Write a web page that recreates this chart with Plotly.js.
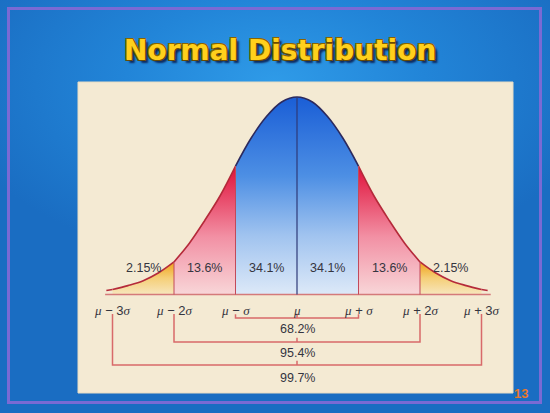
<!DOCTYPE html>
<html>
<head>
<meta charset="utf-8">
<script src="https://cdn.plot.ly/plotly-3.0.1.min.js"></script>
<style>
html,body{margin:0;padding:0;width:550px;height:413px;overflow:hidden;}
body{background:radial-gradient(ellipse 60% 45% at 50% 20%, #2f9be8 0%, #2285d8 45%, #1a6dc2 100%);}
#chart{width:550px;height:413px;}
</style>
</head>
<body>
<div id="chart"></div>
<script>
// ---- data (x in units of sigma, height relative to peak) ----
const sigmaX  = [-3.1, -3, -2.75, -2.5, -2.25, -2, -1.75, -1.5, -1.25, -1, -0.75, -0.5, -0.25, 0,
                 0.25, 0.5, 0.75, 1, 1.25, 1.5, 1.75, 2, 2.25, 2.5, 2.75, 3, 3.1];
const density = [0.02, 0.025, 0.045, 0.07, 0.11, 0.165, 0.26, 0.375, 0.50, 0.65, 0.79, 0.90, 0.975, 1,
                 0.975, 0.90, 0.79, 0.65, 0.50, 0.375, 0.26, 0.165, 0.11, 0.07, 0.045, 0.025, 0.02];
const tickVals   = [-3, -2, -1, 0, 1, 2, 3];
const tickLabels = ['μ − 3σ', 'μ − 2σ', 'μ − σ', 'μ', 'μ + σ', 'μ + 2σ', 'μ + 3σ'];
const regionPct  = ['2.15%', '13.6%', '34.1%', '34.1%', '13.6%', '2.15%'];
const regionPctX = [-2.5, -1.5, -0.5, 0.5, 1.5, 2.5];
const bracketPct = ['68.2%', '95.4%', '99.7%'];
const bracketK   = [1, 2, 3];
const titleText  = 'Normal Distribution';
const pageNumber = '13';

// ---- helpers ----
function slice(a, b) {
  const xs = [], ys = [];
  sigmaX.forEach((x, i) => { if (x >= a - 1e-9 && x <= b + 1e-9) { xs.push(x); ys.push(density[i]); } });
  return {x: xs, y: ys};
}
function heightAt(k) { return density[sigmaX.indexOf(k)]; }

const traces = [];
const SERIF = 'Liberation Serif';
function fmtLabel(s) {
  return s.replace(/μ/g, '<span style="font-family:' + SERIF + '"><i>μ</i></span>')
          .replace(/σ/g, '<span style="font-family:' + SERIF + '"><i>σ</i></span>');
}

// regions
const regions = [
  {a: -3.1, b: -3, fill: null, line: '#b52a3a'},
  {a: -3, b: -2, fill: {stop: heightAt(-2), cs: [[0, '#f7e6bd'], [0.5, '#f5cf78'], [1, '#f0a21a']]}, line: '#b52a3a'},
  {a: -2, b: -1, fill: {stop: heightAt(-1), cs: [[0, '#f8d6d8'], [0.45, '#f290a4'], [1, '#e0103a']]}, line: '#b52a3a'},
  {a: -1, b: 1, fill: {stop: 1, cs: [[0, '#dde9f8'], [0.3, '#a0c3ef'], [0.6, '#4d8fe4'], [1, '#1a5ed6']]}, line: '#2c2a5e'},
  {a: 1, b: 2, fill: {stop: heightAt(1), cs: [[0, '#f8d6d8'], [0.45, '#f290a4'], [1, '#e0103a']]}, line: '#b52a3a'},
  {a: 2, b: 3, fill: {stop: heightAt(2), cs: [[0, '#f7e6bd'], [0.5, '#f5cf78'], [1, '#f0a21a']]}, line: '#b52a3a'},
  {a: 3, b: 3.1, fill: null, line: '#b52a3a'}
];
regions.forEach(r => {
  const s = slice(r.a, r.b);
  const t = {x: s.x, y: s.y, type: 'scatter', mode: 'lines',
             line: {color: r.line, width: 1.6, shape: 'spline', smoothing: 1},
             hoverinfo: 'skip', showlegend: false};
  if (r.fill) {
    t.fill = 'tozeroy';
    t.fillgradient = {type: 'vertical', start: 0, stop: r.fill.stop, colorscale: r.fill.cs};
  }
  traces.push(t);
});

// baseline
traces.push({x: [sigmaX[0] - 0.02, sigmaX[sigmaX.length - 1] + 0.05], y: [0, 0], type: 'scatter', mode: 'lines',
             line: {color: '#d47a7a', width: 1.6}, hoverinfo: 'skip', showlegend: false});

// boundary lines at ±1σ, ±2σ
[-2, -1, 1, 2].forEach(k => {
  traces.push({x: [k, k], y: [0, heightAt(k)], type: 'scatter', mode: 'lines',
               line: {color: '#c24a5a', width: 1}, hoverinfo: 'skip', showlegend: false});
});
// mean line
traces.push({x: [0, 0], y: [0, heightAt(0)], type: 'scatter', mode: 'lines',
             line: {color: '#2e3a78', width: 1.2}, hoverinfo: 'skip', showlegend: false});

// brackets
const bracketLevel = [-0.119, -0.2405, -0.357];
const bracketTop = -0.0987;
const bracketTextY = [-0.176, -0.297, -0.424];
bracketK.forEach((k, i) => {
  const lv = bracketLevel[i];
  const top = (i === 0) ? -0.1 : bracketTop;
  traces.push({x: [-k, -k, k, k, null, 0, 0], y: [top, lv, lv, top, null, lv, lv + 0.022],
               type: 'scatter', mode: 'lines', line: {color: '#d86a6a', width: 1.5},
               hoverinfo: 'skip', showlegend: false});
});

// annotations
const ann = [];
const txtFont = {family: 'Liberation Sans', size: 12.5, color: '#35353f'};
regionPct.forEach((t, i) => ann.push({x: regionPctX[i], y: 0.134, xref: 'x', yref: 'y', text: t,
  xanchor: 'center', yanchor: 'middle', showarrow: false, font: txtFont}));
tickVals.forEach((v, i) => ann.push({x: v, y: -0.083, xref: 'x', yref: 'y', text: fmtLabel(tickLabels[i]),
  xanchor: 'center', yanchor: 'middle', showarrow: false,
  font: {family: 'Liberation Sans', size: 13, color: '#35353f'}}));
bracketPct.forEach((t, i) => ann.push({x: 0, y: bracketTextY[i], xref: 'x', yref: 'y', text: t,
  xanchor: 'center', yanchor: 'middle', showarrow: false, font: txtFont}));
ann.push({x: 280 / 550, y: 1 - 50 / 413, xref: 'paper', yref: 'paper', text: '<b>' + titleText + '</b>',
  xanchor: 'center', yanchor: 'middle', showarrow: false,
  font: {family: 'DejaVu Sans', size: 28, color: '#ffd01c',
         shadow: '1px 1px 0 #6b4a00, -1px -1px 0 #8a6400, 1px -1px 0 #8a6400, -1px 1px 0 #6b4a00, 3px 3px 2px #0d2a60'}});
ann.push({x: 521 / 550, y: 1 - 393 / 413, xref: 'paper', yref: 'paper', text: '<b>' + pageNumber + '</b>',
  xanchor: 'center', yanchor: 'middle', showarrow: false,
  font: {family: 'Liberation Sans', size: 13, color: '#e8782a'}});

// decorative slide shapes (paper coordinates)
const W = 550, H = 413;
function px(x) { return x / W; }
function py(y) { return 1 - y / H; }
const shapes = [
  {type: 'rect', xref: 'paper', yref: 'paper', x0: px(8.5), x1: px(540.5), y0: py(8.5), y1: py(402.5),
   line: {color: '#7a6ad4', width: 3}, fillcolor: 'rgba(0,0,0,0)', layer: 'below'},
  {type: 'rect', xref: 'paper', yref: 'paper', x0: px(78), x1: px(513), y0: py(82), y1: py(393),
   line: {color: '#e6dcc4', width: 1}, fillcolor: '#f4ead3', layer: 'below'}
];

const layout = {
  width: 550, height: 413,
  margin: {l: 0, r: 0, t: 0, b: 0},
  paper_bgcolor: 'rgba(0,0,0,0)', plot_bgcolor: 'rgba(0,0,0,0)',
  xaxis: {range: [-297 / 61.5, (550 - 297) / 61.5], visible: false, fixedrange: true},
  yaxis: {range: [-(413 - 294.5) / 197.5, 294.5 / 197.5], visible: false, fixedrange: true},
  showlegend: false,
  shapes: shapes,
  annotations: ann
};
Plotly.newPlot('chart', traces, layout, {displayModeBar: false, staticPlot: true});
</script>
</body>
</html>
